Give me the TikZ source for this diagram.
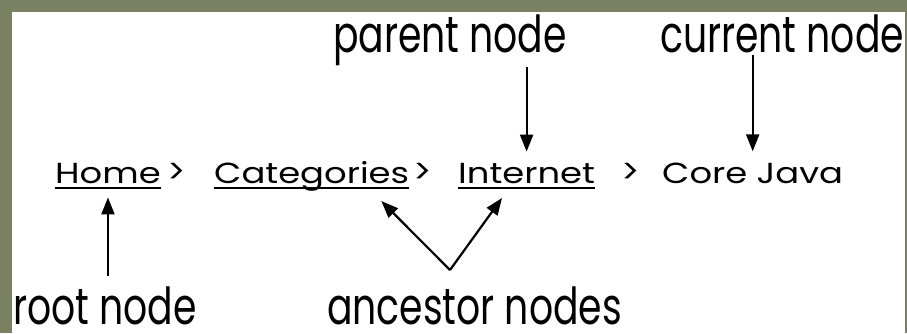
\documentclass[tikz,border=0pt]{standalone}
\usepackage{fontspec}
\setmainfont{Poppins}
\newfontfamily\tagfont[FakeStretch=0.74]{Poppins}
\newfontfamily\crumbfont[FakeStretch=1.22]{Poppins}
\usetikzlibrary{arrows.meta}
\tikzset{ptr/.style = {line width=2.2pt, -{Triangle[length=17pt, width=13pt]}}}
\tikzset{tag/.style = {inner sep=0, anchor=base west,
                       font=\tagfont\fontsize{51}{51}\selectfont}}
\tikzset{crumb/.style = {inner sep=0, anchor=base west,
                         font=\crumbfont\fontsize{29}{29}\selectfont}}
\tikzset{sep/.style = {inner sep=0, anchor=base west,
                       font=\setmainfont{Poppins}\fontsize{34}{34}\selectfont}}
\tikzset{uline/.style = {line width=2pt}}
\definecolor{mframe}{RGB}{122, 128, 98}

\begin{document}
\begin{tikzpicture}[x=1pt, y=1pt]
      % frame
      \fill [mframe] (0, 0) rectangle (907, 333);
      \fill [white] (12, 0) rectangle (905, 321);
      \useasboundingbox (0, 0) rectangle (907, 333);

      % breadcrumb trail
      \node [crumb] (home) at (55, 150) {Home};
      \node [sep] (gt1) at (167, 150) {>};
      \node [crumb] (cat) at (214, 150) {Categories};
      \node [sep] (gt2) at (413, 150) {>};
      \node [crumb] (inet) at (458, 150) {Internet};
      \node [sep] (gt3) at (621, 150) {>};
      \node [crumb] (java) at (662, 150) {Core Java};
      \foreach \n in {home, cat, inet} {
        \draw [uline] ([yshift=-5pt]\n.base west) -- ([yshift=-5pt]\n.base east);
      }

      % labels
      \node [tag] (plbl) at (333, 281) {parent node};
      \node [tag] (clbl) at (660, 281) {current node};
      \node [tag] (rlbl) at (13, 9) {root node};
      \node [tag] (albl) at (327, 9) {ancestor nodes};

      \draw [ptr, shorten <=2pt, shorten >=11pt] (plbl.south -| inet.north) -- (inet.north);
      \draw [ptr, shorten <=2pt, shorten >=11pt] (clbl.south -| java.north) -- (java.north);
      \draw [ptr, shorten <=10pt, shorten >=14pt] (rlbl.north -| home.south) -- (home.south);

      \coordinate (vtip) at (450, 63);
      \draw [ptr] (vtip) -- ([shift={(-28, -18)}]cat.base east);
      \draw [ptr] (vtip) -- ([shift={(44, -15)}]inet.base west);
    \end{tikzpicture}
\end{document}
